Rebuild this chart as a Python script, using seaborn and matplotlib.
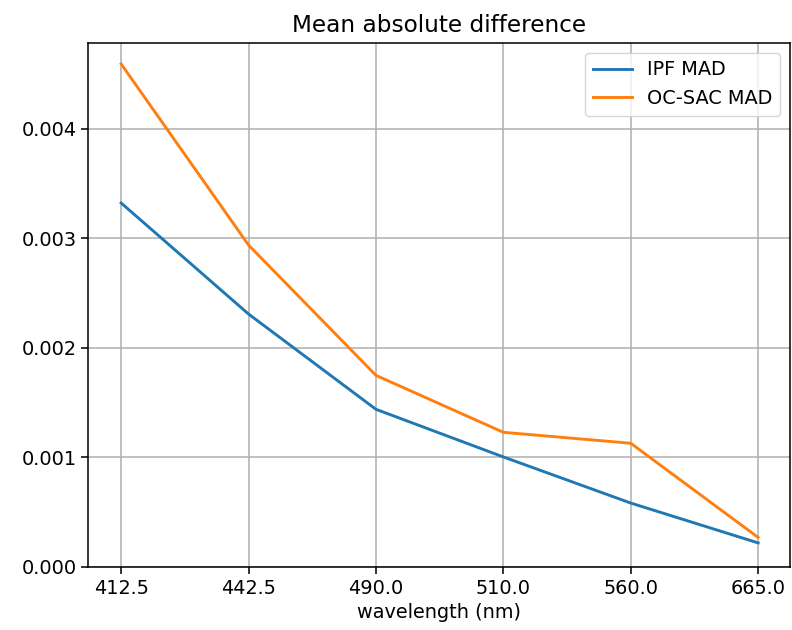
import matplotlib
matplotlib.use("Agg")
import matplotlib.pyplot as plt
import seaborn as sns
import pandas as pd
import numpy as np

wavelengths = ["412.5", "442.5", "490.0", "510.0", "560.0", "665.0"]
ipf_mad = [0.003324, 0.00231, 0.00144, 0.001005, 0.000584, 0.00022]
ocsac_mad = [0.004594, 0.00294, 0.00175, 0.00123, 0.00113, 0.00027]

s = 1.39
plt.rcParams.update({
    "font.size": 10 * s,
    "font.family": ["DejaVu Sans"],
    "axes.linewidth": 0.8 * s,
    "xtick.major.width": 0.8 * s,
    "ytick.major.width": 0.8 * s,
    "xtick.major.size": 3.5 * s,
    "ytick.major.size": 3.5 * s,
    "grid.linewidth": 0.8 * s,
    "grid.color": "#b0b0b0",
})

df = pd.DataFrame({
    "x": list(range(len(wavelengths))) * 2,
    "value": ipf_mad + ocsac_mad,
    "series": ["IPF MAD"] * len(wavelengths) + ["OC-SAC MAD"] * len(wavelengths),
})

fig = plt.figure(figsize=(7.92, 6.3), dpi=100)
ax = fig.add_axes([88 / 792, 1 - 567 / 630, (790 - 88) / 792, (567 - 43) / 630])
sns.lineplot(data=df, x="x", y="value", hue="series",
             palette=["#1f77b4", "#ff7f0e"], linewidth=1.5 * s, ax=ax)
ax.set_xticks(range(len(wavelengths)))
ax.set_xticklabels(wavelengths)
ax.set_xlim(-0.26, 5.25)
ax.set_ylim(0, 0.004785)
ax.set_yticks([0, 0.001, 0.002, 0.003, 0.004])
ax.set_yticklabels(["0.000", "0.001", "0.002", "0.003", "0.004"])
ax.grid(True)
ax.set_axisbelow(True)
ax.set_xlabel("wavelength (nm)")
ax.set_ylabel("")
ax.set_title("Mean absolute difference", pad=8)
leg = ax.legend(loc="upper right", title=None)
fig.savefig("out.png", dpi=100)
